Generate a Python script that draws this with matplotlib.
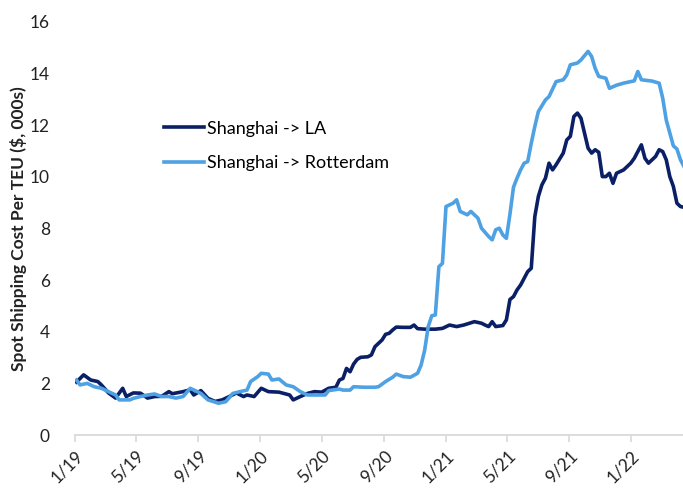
import numpy as np
import pandas as pd
import matplotlib
matplotlib.use("Agg")
import matplotlib.pyplot as plt
import matplotlib.dates as mdates

plt.rcParams["font.family"] = ["Lato", "DejaVu Sans"]

NAVY = "#0b1f66"
SKY = "#4ea1e2"
START = pd.Timestamp("2019-01-04")   # first weekly observation

# Shanghai -> LA, spot cost per TEU ($000s), by week since START
la_weeks = [0, 2, 4, 6, 7, 9, 11, 13, 14, 16,
            18, 20, 22, 24, 26, 27, 30, 32, 33, 35,
            37, 39, 41, 43, 45, 47, 48, 50, 52, 54,
            57, 60, 61, 63, 65, 67, 69, 71, 73, 74,
            75, 76, 77, 78, 79, 80, 82, 83, 84, 86,
            87, 88, 89, 90, 92, 94, 95, 96, 98, 101,
            103, 105, 107, 109, 112, 114, 115, 116, 117, 118,
            120, 121, 122, 123, 124, 125, 126, 127, 128, 129,
            130, 131, 132, 133, 134, 135, 137, 138, 139, 140,
            141, 142, 143, 144, 145, 146, 147, 148, 149, 150,
            151, 152, 154, 156, 157, 159, 160, 161, 163, 164,
            165, 166, 167, 168, 169, 170, 171]
la_cost = [2.05, 2.33, 2.13, 2.07, 1.94, 1.63, 1.43, 1.81, 1.49, 1.63,
           1.62, 1.43, 1.49, 1.50, 1.68, 1.60, 1.68, 1.75, 1.55, 1.72,
           1.42, 1.30, 1.36, 1.49, 1.63, 1.49, 1.55, 1.49, 1.81, 1.68,
           1.66, 1.55, 1.36, 1.49, 1.61, 1.68, 1.66, 1.81, 1.85, 2.13,
           2.19, 2.58, 2.45, 2.75, 2.93, 3.01, 3.03, 3.10, 3.42, 3.68,
           3.90, 3.94, 4.07, 4.18, 4.17, 4.17, 4.26, 4.12, 4.10, 4.10,
           4.13, 4.26, 4.20, 4.26, 4.39, 4.33, 4.26, 4.20, 4.39, 4.20,
           4.24, 4.46, 5.25, 5.36, 5.62, 5.81, 6.07, 6.33, 6.46, 8.46,
           9.24, 9.69, 9.95, 10.53, 10.27, 10.47, 10.92, 11.43, 11.57, 12.34,
           12.47, 12.27, 11.69, 11.11, 10.92, 11.05, 10.95, 10.01, 10.01, 10.14,
           9.75, 10.14, 10.27, 10.53, 10.72, 11.24, 10.72, 10.53, 10.79, 11.05,
           10.98, 10.66, 10.01, 9.63, 8.98, 8.85, 8.82]

# Shanghai -> Rotterdam
rtm_weeks = [0, 1, 3, 5, 7, 9, 11, 12, 15, 16,
             18, 20, 22, 24, 26, 28, 30, 32, 34, 35,
             37, 40, 42, 44, 46, 48, 49, 51, 52, 54,
             55, 57, 59, 61, 63, 65, 68, 70, 71, 74,
             75, 77, 78, 81, 84, 85, 87, 89, 90, 92,
             94, 96, 97, 98, 99, 100, 101, 102, 103, 104,
             106, 107, 108, 110, 111, 113, 114, 116, 117, 118,
             119, 120, 121, 122, 123, 124, 125, 126, 127, 128,
             129, 130, 132, 133, 135, 137, 138, 139, 141, 142,
             144, 145, 146, 147, 149, 150, 152, 154, 156, 157,
             158, 159, 162, 164, 165, 166, 168, 169, 170, 171]
rtm_cost = [2.13, 1.94, 2.00, 1.87, 1.81, 1.68, 1.55, 1.36, 1.36, 1.42,
            1.49, 1.55, 1.59, 1.49, 1.49, 1.43, 1.49, 1.81, 1.68, 1.61,
            1.36, 1.23, 1.29, 1.61, 1.68, 1.74, 2.07, 2.26, 2.39, 2.36,
            2.13, 2.17, 1.94, 1.87, 1.68, 1.55, 1.55, 1.55, 1.72, 1.78,
            1.74, 1.74, 1.87, 1.85, 1.85, 1.87, 2.07, 2.24, 2.36, 2.26,
            2.24, 2.39, 2.71, 3.29, 4.20, 4.62, 4.65, 6.52, 6.65, 8.85,
            8.98, 9.11, 8.66, 8.53, 8.66, 8.40, 8.01, 7.69, 7.56, 7.95,
            8.01, 7.75, 7.62, 8.55, 9.60, 9.95, 10.27, 10.53, 10.59, 11.30,
            11.95, 12.53, 12.98, 13.11, 13.69, 13.76, 13.95, 14.34, 14.41, 14.53,
            14.86, 14.66, 14.20, 13.89, 13.82, 13.43, 13.55, 13.63, 13.69, 13.72,
            14.08, 13.76, 13.71, 13.63, 13.05, 12.20, 11.20, 11.08, 10.66, 10.40]


def to_dates(weeks):
    return START + pd.to_timedelta(np.array(weeks) * 7, unit="D")


fig = plt.figure(figsize=(6.83, 4.88), dpi=100)
ax = fig.add_axes([0.1098, 0.1086, 0.8902, 0.8464])

ax.plot(to_dates(la_weeks), la_cost, color=NAVY, lw=2.6,
        solid_joinstyle="round", label="Shanghai -> LA")
ax.plot(to_dates(rtm_weeks), rtm_cost, color=SKY, lw=2.6,
        solid_joinstyle="round", label="Shanghai -> Rotterdam")

ax.set_ylim(0, 16)
ax.set_yticks(range(0, 17, 2))
ax.set_xlim(pd.Timestamp("2019-01-01"), pd.Timestamp("2022-04-13"))

ax.xaxis.set_major_locator(mdates.MonthLocator(bymonth=[1, 5, 9]))
ax.xaxis.set_major_formatter(
    matplotlib.ticker.FuncFormatter(
        lambda v, _: f"{mdates.num2date(v).month}/{mdates.num2date(v).year % 100:02d}"))
for lbl in ax.get_xticklabels():
    lbl.set_rotation(45)
    lbl.set_ha("right")
    lbl.set_va("top")
    lbl.set_rotation_mode("anchor")

for side in ["top", "right", "left"]:
    ax.spines[side].set_visible(False)
ax.spines["bottom"].set_color("#d9d9d9")
ax.spines["bottom"].set_linewidth(1.3)
ax.tick_params(axis="x", direction="out", length=5, width=1.2, color="#d9d9d9",
               labelsize=12.5, labelcolor="#222222", pad=4)
ax.tick_params(axis="y", length=0, labelsize=12.5, labelcolor="#222222", pad=18)

ax.set_ylabel("Spot Shipping Cost Per TEU ($, 000s)", fontsize=12.5,
              fontweight="bold", color="#222222")
ax.yaxis.set_label_coords(-0.079, 0.5)

ax.legend(loc="upper left", bbox_to_anchor=(0.12, 0.80), frameon=False,
          fontsize=13, handlelength=2.2, handletextpad=0.15, labelspacing=1.0)

fig.savefig("out.png", dpi=100)
